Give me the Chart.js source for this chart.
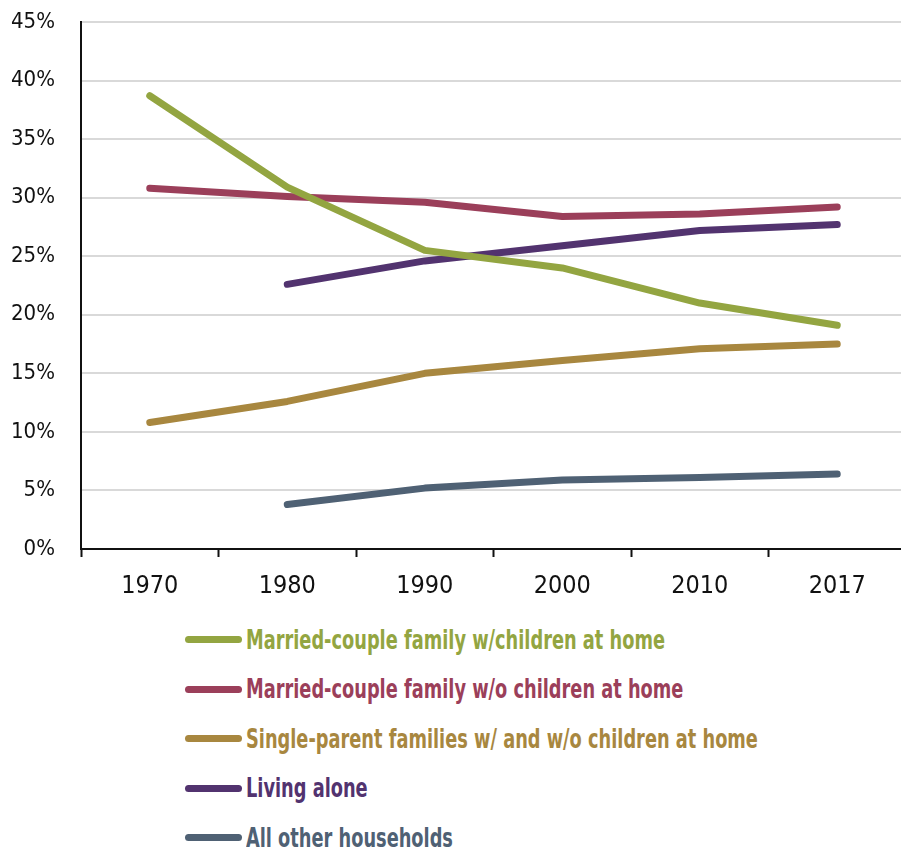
<!DOCTYPE html>
<html>
<head>
<meta charset="utf-8">
<script src="https://cdn.jsdelivr.net/npm/chart.js@4"></script>
<style>
  html, body { margin: 0; padding: 0; background: #fff; overflow: hidden; }
  #wrap { position: relative; width: 906px; height: 851px; }
  #chartBox { position: absolute; left: 0; top: 0; width: 906px; height: 610px; }
  #legend { position: absolute; left: 185px; top: 615px; font-family: "DejaVu Sans Condensed", "DejaVu Sans", sans-serif; font-weight: bold; font-size: 26px; }
  .row { height: 49.5px; display: flex; align-items: center; white-space: nowrap; }
  .sw { width: 57px; height: 7px; border-radius: 4px; margin-right: 4px; flex: none; }
  .txt { display: inline-block; transform: scaleX(0.76); transform-origin: left center; }
</style>
</head>
<body>
<div id="wrap">
  <div id="chartBox"><canvas id="c" width="906" height="610"></canvas></div>
  <div id="legend"></div>
</div>
<script>
// Share of U.S. households by type, percent
const years = ['1970', '1980', '1990', '2000', '2010', '2017'];
const marriedWithKids = [38.7, 30.9, 25.5, 24.0, 21.0, 19.1];
const marriedNoKids   = [30.8, 30.1, 29.6, 28.4, 28.6, 29.2];
const singleParent    = [10.8, 12.6, 15.0, 16.1, 17.1, 17.5];
const livingAlone     = [null, 22.6, 24.6, 25.9, 27.2, 27.7];
const otherHouseholds = [null, 3.8, 5.2, 5.9, 6.1, 6.4];
const yTicks = [0, 5, 10, 15, 20, 25, 30, 35, 40, 45];

const seriesNames = [
  'Married-couple family w/children at home',
  'Married-couple family w/o children at home',
  'Single-parent families w/ and w/o children at home',
  'Living alone',
  'All other households'
];
const seriesColors = ['#93a541', '#9b3f5a', '#a8873f', '#52336f', '#4f6174'];
const seriesValues = [marriedWithKids, marriedNoKids, singleParent, livingAlone, otherHouseholds];

const fontFamily = '"DejaVu Sans Condensed", "DejaVu Sans", sans-serif';

const chart = new Chart(document.getElementById('c'), {
  type: 'line',
  data: {
    labels: years,
    datasets: seriesNames.map((name, i) => ({
      label: name,
      data: seriesValues[i],
      borderColor: seriesColors[i],
      backgroundColor: seriesColors[i],
      borderWidth: 7,
      borderCapStyle: 'round',
      borderJoinStyle: 'round',
      pointRadius: 0,
      tension: 0,
      fill: false
    }))
  },
  options: {
    responsive: false,
    animation: false,
    layout: { padding: { top: 22, right: 0, bottom: 0, left: 0 } },
    plugins: { legend: { display: false }, tooltip: { enabled: false } },
    scales: {
      x: {
        type: 'category',
        offset: true,
        grid: { offset: true, drawOnChartArea: false, drawTicks: true, tickLength: 8, tickWidth: 2, tickColor: '#111' },
        border: { display: true, color: '#111', width: 2 },
        ticks: { color: '#111', font: { family: fontFamily, size: 25 }, padding: 14, maxRotation: 0 },
        afterFit(s) { s.height = 61; s.paddingLeft = 0; s.paddingRight = 0; }
      },
      y: {
        min: 0, max: 45,
        afterBuildTicks(s) { s.ticks = yTicks.map(v => ({ value: v })); },
        grid: { color: '#d9d9d9', lineWidth: 2, drawTicks: false },
        border: { display: true, color: '#111', width: 2 },
        ticks: { color: '#111', font: { family: fontFamily, size: 22 }, padding: 26, callback: v => v + '%' },
        afterFit(s) { s.width = 81; s.paddingTop = 0; s.paddingBottom = 0; }
      }
    }
  }
});

// Vertical legend built from the chart's datasets
const legend = document.getElementById('legend');
chart.data.datasets.forEach(ds => {
  const row = document.createElement('div');
  row.className = 'row';
  const sw = document.createElement('div');
  sw.className = 'sw';
  sw.style.background = ds.borderColor;
  const txt = document.createElement('span');
  txt.className = 'txt';
  txt.textContent = ds.label;
  txt.style.color = ds.borderColor;
  row.appendChild(sw);
  row.appendChild(txt);
  legend.appendChild(row);
});
</script>
</body>
</html>
